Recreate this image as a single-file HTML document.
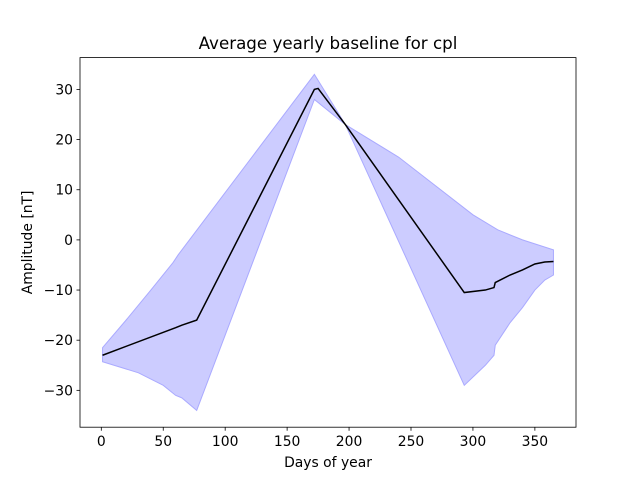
<!DOCTYPE html>
<html><head><meta charset="utf-8"><style>
body{margin:0;background:#fff;font-family:"Liberation Sans","DejaVu Sans",sans-serif}
svg text{font-family:"DejaVu Sans","Liberation Sans",sans-serif;font-size:13.9px}
</style></head><body>
<svg id="c" width="640" height="480"></svg>
<script>
const days=[1,60,65,77,172,175,197,240,293,310,317,318,330,340,350,358,365];
const meanVals=[-23,-17.5,-17,-16,30,30.2,23,8,-10.5,-10,-9.5,-8.5,-7,-6,-4.8,-4.4,-4.3];
const upperDays=[1,20,40,58,62,172,197,240,300,320,340,365];
const upperVals=[-21.5,-16,-10,-4.5,-3,33,23,16.5,5,2,0,-2];
const lowerDays=[1,30,50,60,65,77,172,197,293,310,317,318,330,340,350,358,365];
const lowerVals=[-24.3,-26.5,-29,-31,-31.5,-34,28,23,-29,-25,-23,-21,-16.5,-13.5,-10,-8,-7];
const xTicks=[0,50,100,150,200,250,300,350];
const yTicks=[-30,-20,-10,0,10,20,30];
const L=80,R=576,T=57.6,B=427.2,X0=-17.2,X1=383.2,Y0=-37.35,Y1=36.35;
const sx=v=>L+(v-X0)/(X1-X0)*(R-L), sy=v=>B-(v-Y0)/(Y1-Y0)*(B-T);
const svg=document.getElementById('c');const NS='http://www.w3.org/2000/svg';
function mk(t,a,p){const e=document.createElementNS(NS,t);for(const k in a)e.setAttribute(k,a[k]);(p||svg).appendChild(e);return e;}
let pts=upperDays.map((d,i)=>sx(d)+','+sy(upperVals[i]));
for(let i=lowerDays.length-1;i>=0;i--)pts.push(sx(lowerDays[i])+','+sy(lowerVals[i]));
const band=mk('polygon',{points:pts.join(' '),fill:'#ccccff',stroke:'#aaaaff','stroke-width':1});


const line=mk('polyline',{points:days.map((d,i)=>sx(d)+','+sy(meanVals[i])).join(' '),fill:'none',stroke:'#000','stroke-width':1.5});


const fr=mk('rect',{x:L,y:T,width:R-L,height:B-T,fill:'none',stroke:'#000','stroke-width':0.8});


xTicks.forEach(v=>{mk('line',{x1:sx(v),x2:sx(v),y1:B,y2:B+3.5,stroke:'#000','stroke-width':0.8});
const t=mk('text',{x:sx(v),y:B+19,'text-anchor':'middle'});t.textContent=v;

});
yTicks.forEach(v=>{mk('line',{x1:L-3.5,x2:L,y1:sy(v),y2:sy(v),stroke:'#000','stroke-width':0.8});
const t=mk('text',{x:L-7,y:sy(v)+5,'text-anchor':'end'});t.textContent=v<0?'\u2212'+(-v):v;

});
let t=mk('text',{x:(L+R)/2,y:467,'text-anchor':'middle'});t.textContent='Days of year';


t=mk('text',{x:32,y:(T+B)/2,'text-anchor':'middle',transform:'rotate(-90 32 '+(T+B)/2+')'});t.textContent='Amplitude [nT]';


t=mk('text',{x:(L+R)/2,y:49,'text-anchor':'middle',style:'font-size:16.7px'});t.textContent='Average yearly baseline for cpl';


</script></body></html>
